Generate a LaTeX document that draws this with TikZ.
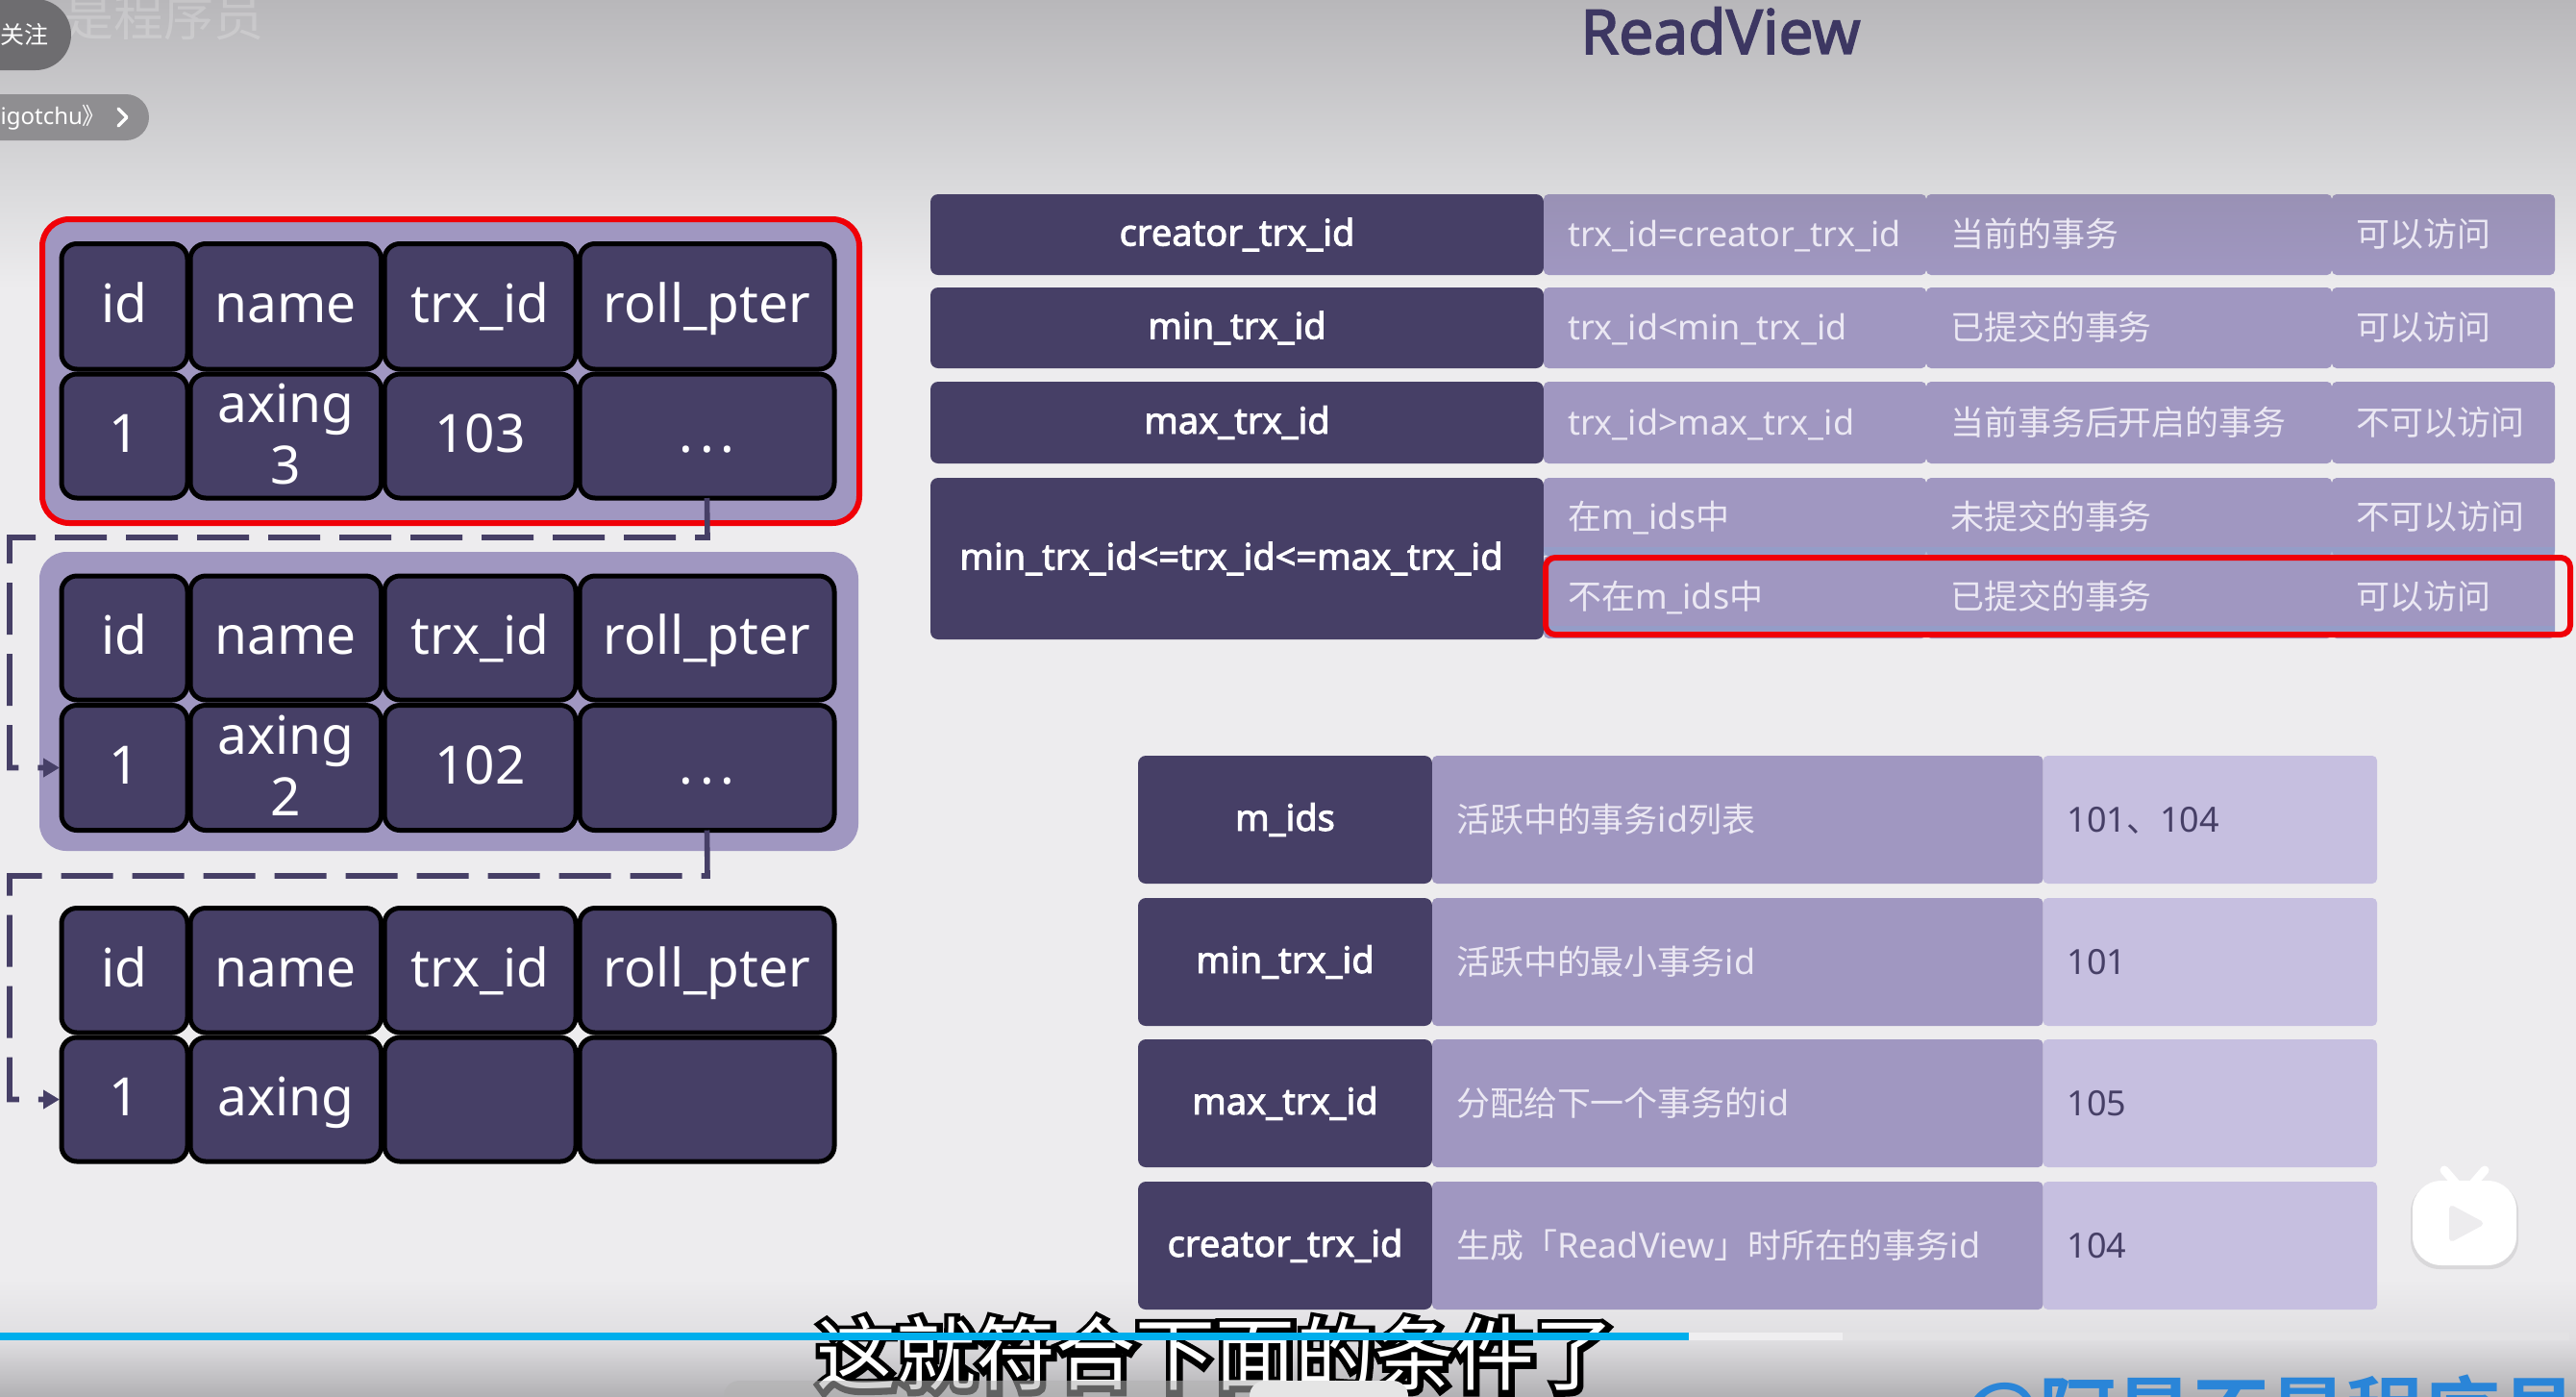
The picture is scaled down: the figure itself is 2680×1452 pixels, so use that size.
\documentclass[tikz,border=0pt]{standalone}
\usepackage{fontspec}
\setmainfont{Noto Sans}
\newfontfamily\hb[FakeBold=2.4]{Noto Sans}
\newfontfamily\cj{Noto Sans CJK SC}
\newfontfamily\cjt[Scale=0.972]{Noto Sans CJK SC}
\newfontfamily\cjb{Noto Sans CJK SC Bold}
\newfontfamily\subb[FakeBold=13]{Noto Sans CJK SC}
\usetikzlibrary{arrows.meta}
\definecolor{darkc}{HTML}{463F66}
\definecolor{titlec}{HTML}{3D3762}
\definecolor{midc}{HTML}{A097C1}
\definecolor{midtop}{HTML}{9991B5}
\definecolor{lightc}{HTML}{C6BFE0}
\definecolor{pale}{HTML}{EBE8F3}
\definecolor{bgc}{HTML}{EDECEE}
\definecolor{redc}{HTML}{F00008}
\definecolor{blueb}{HTML}{00AEEC}
\definecolor{wmblue}{HTML}{2A85D8}
\definecolor{g1}{HTML}{B8B7BA}
\definecolor{g2}{HTML}{DADADC}
\definecolor{g3}{HTML}{DFDEE1}
\definecolor{g4}{HTML}{B2B1B4}
\definecolor{p1}{HTML}{6E6D70}
\definecolor{p2}{HTML}{8F8E91}
\definecolor{band}{HTML}{8FA0CC}
\tikzset{
  base/.style={inner sep=0pt,outer sep=0pt,align=center},
  blk/.style={base,fill=darkc,draw=black,line width=2.5pt,rounded corners=8pt,text=white,font=\fontsize{27.5}{32}\selectfont},
  one/.style={text height=22pt,text depth=5pt},
  cont/.style={base,fill=midc,rounded corners=14pt},
  kcell/.style={base,fill=darkc,rounded corners=4pt,text=white,font=\hb\fontsize{19}{21}\selectfont,text height=14.5pt,text depth=3pt},
  mcell/.style={base,fill=midc,rounded corners=2.5pt,text=pale,font=\fontsize{18}{21}\selectfont,text height=15pt,text depth=2.5pt},
  mtop/.style={mcell,fill=none,top color=midtop,bottom color=midc},
  lcell/.style={mcell,fill=lightc,text=darkc},
  dashlink/.style={draw=darkc,line width=2.8pt,dash pattern=on 27pt off 10pt,-{Triangle[length=8.5pt,width=9.5pt]}},
  redbox/.style={draw=redc,line width=3pt},
}
\newcommand{\cell}[7]{\node[#6,minimum width={(#4-#2)*0.5pt},minimum height={(#5-#3)*0.5pt}] (#1) at ({(#2+#4)/2},{(#3+#5)/2}) {#7};}
\newcommand{\lft}[7]{\node[#6,minimum width={(#4-#2)*0.5pt},minimum height={(#5-#3)*0.5pt},text width={(#4-#2)*0.5pt-25pt},inner xsep=12.5pt,align=left] (#1) at ({(#2+#4)/2},{(#3+#5)/2}) {#7};}
\newcommand{\tbl}[5]{% prefix, y0,y1,y2,y3
  \cell{#1a}{64}{#2}{195}{#3}{blk,one}{id}
  \cell{#1b}{198}{#2}{396.5}{#3}{blk,one}{name}
  \cell{#1c}{400}{#2}{599}{#3}{blk,one}{trx\_id}
  \cell{#1d}{603}{#2}{868}{#3}{blk,one}{roll\_pter}
  \cell{#1e}{64}{#4}{195}{#5}{blk,one}{1}
}
\newcommand{\dotsx}{.\kern3.5pt.\kern3.5pt.}
\newcommand{\upx}{\rule[-2.2pt]{0pt}{2.2pt}}
\begin{document}
\begin{tikzpicture}[x=0.5pt,y=-0.5pt]
\useasboundingbox (0,0) rectangle (2680,1452);
\clip (0,0) rectangle (2680,1452);
% background
\fill[bgc] (0,0) rectangle (2680,1452);
\shade[top color=g1,bottom color=g2] (0,0) rectangle (2680,195);
\shade[top color=g2,bottom color=bgc] (0,195) rectangle (2680,300);
\shade[top color=bgc,bottom color=g3] (0,1330) rectangle (2680,1394);
\shade[top color=g3,bottom color=g4] (0,1394) rectangle (2680,1452);
% faint channel mark
\node[base,anchor=west,text=white,opacity=.2,font=\cj\fontsize{26}{26}\selectfont] (mark) at (66,18) {是程序员};
% player pills
\fill[p1,rounded corners=18.5pt] (-80,-1) rectangle (74,73);
\node[base,text=white,font=\cj\fontsize{12.5}{14}\selectfont] (follow) at (25,36) {关注};
\fill[p2,rounded corners=12pt] (-60,98) rectangle (155,146);
\node[base,anchor=east,text=white,font=\fontsize{12}{14}\selectfont] (coll) at (110,122) {{\cj 《}igotchu{\cj 》}};
\draw[white,line width=1.6pt,line cap=round,line join=round] (123,113) -- (132,122) -- (123,131);
% title
\node[base,text=titlec,font=\hb\fontsize{32}{34}\selectfont] (title) at (1790,32) {ReadView};
% left stack
\cell{boxA}{44}{228}{894}{544}{cont,redbox}{}
\cell{boxB}{41}{574}{893}{885}{cont}{}
\tbl{A}{253.5}{384}{389}{518}
\cell{Af}{198}{389}{396.5}{518}{blk}{axing\\3\upx}
\cell{Ag}{400}{389}{599}{518}{blk,one}{103}
\cell{Ah}{603}{389}{868}{518}{blk,one}{\dotsx}
\tbl{B}{599}{728}{733.5}{863.5}
\cell{Bf}{198}{733.5}{396.5}{863.5}{blk}{axing\\2\upx}
\cell{Bg}{400}{733.5}{599}{863.5}{blk,one}{102}
\cell{Bh}{603}{733.5}{868}{863.5}{blk,one}{\dotsx}
\tbl{C}{944.5}{1074}{1079}{1208}
\cell{Cf}{198}{1079}{396.5}{1208}{blk,one}{axing}
\cell{Cg}{400}{1079}{599}{1208}{blk,one}{}
\cell{Ch}{603}{1079}{868}{1208}{blk,one}{}
% version links
\coordinate (p1) at (736,559); \coordinate (p2) at (10,559);
\coordinate (p3) at (736,911); \coordinate (p4) at (10,911);
\draw[dashlink] (Ah.south) -- (p1) -- (p2) -- (p2 |- Be.west) -- ([xshift=-1pt]Be.west);
\draw[dashlink] (Bh.south) -- (p3) -- (p4) -- (p4 |- Ce.west) -- ([xshift=-1pt]Ce.west);
% rules table
\cell{r1k}{968}{202}{1606}{286}{kcell}{creator\_trx\_id}
\lft{r1a}{1606}{202}{2004}{286}{mtop}{trx\_id=creator\_trx\_id}
\lft{r1b}{2004}{202}{2426}{286}{mtop}{\cjt 当前的事务}
\lft{r1c}{2426}{202}{2658}{286}{mtop}{\cjt 可以访问}
\cell{r2k}{968}{299}{1606}{383}{kcell}{min\_trx\_id}
\lft{r2a}{1606}{299}{2004}{383}{mcell}{trx\_id<min\_trx\_id}
\lft{r2b}{2004}{299}{2426}{383}{mcell}{\cjt 已提交的事务}
\lft{r2c}{2426}{299}{2658}{383}{mcell}{\cjt 可以访问}
\cell{r3k}{968}{397}{1606}{482}{kcell}{max\_trx\_id}
\lft{r3a}{1606}{397}{2004}{482}{mcell}{trx\_id>max\_trx\_id}
\lft{r3b}{2004}{397}{2426}{482}{mcell}{\cjt 当前事务后开启的事务}
\lft{r3c}{2426}{397}{2658}{482}{mcell}{\cjt 不可以访问}
\cell{r4k}{968}{497}{1606}{665}{kcell}{min\_trx\_id<=trx\_id<=max\_trx\_id\hspace*{6pt}}
\lft{r4a}{1606}{497}{2004}{578}{mcell}{{\cjt 在}m\_ids{\cjt 中}}
\lft{r4b}{2004}{497}{2426}{578}{mcell}{\cjt 未提交的事务}
\lft{r4c}{2426}{497}{2658}{578}{mcell}{\cjt 不可以访问}
\lft{r5a}{1606}{578}{2004}{664}{mcell}{{\cjt 不在}m\_ids{\cjt 中}}
\lft{r5b}{2004}{578}{2426}{664}{mcell}{\cjt 已提交的事务}
\lft{r5c}{2426}{578}{2658}{664}{mcell}{\cjt 可以访问}
\fill[band,opacity=.7] (1606,569) rectangle (2658,578);
\fill[band,opacity=.7] (1608,651) rectangle (2658,656);
\draw[redbox,rounded corners=5pt] (1608,580) rectangle (2674,660);
% fields table
\cell{f1k}{1184}{786}{1490}{919}{kcell}{m\_ids}
\lft{f1a}{1490}{786}{2125.5}{919}{mcell}{{\cjt 活跃中的事务}id{\cjt 列表}}
\lft{f1b}{2125.5}{786}{2473}{919}{lcell}{101{\cjt 、}104}
\cell{f2k}{1184}{934}{1490}{1067}{kcell}{min\_trx\_id}
\lft{f2a}{1490}{934}{2125.5}{1067}{mcell}{{\cjt 活跃中的最小事务}id}
\lft{f2b}{2125.5}{934}{2473}{1067}{lcell}{101}
\cell{f3k}{1184}{1081}{1490}{1214}{kcell}{max\_trx\_id}
\lft{f3a}{1490}{1081}{2125.5}{1214}{mcell}{{\cjt 分配给下一个事务的}id}
\lft{f3b}{2125.5}{1081}{2473}{1214}{lcell}{105}
\cell{f4k}{1184}{1229}{1490}{1362}{kcell}{creator\_trx\_id}
\lft{f4a}{1490}{1229}{2125.5}{1362}{mcell}{{\cjt 生成「}ReadView{\cjt 」时所在的事务}id}
\lft{f4b}{2125.5}{1229}{2473}{1362}{lcell}{104}
% bilibili icon
\fill[gray,opacity=.18,rounded corners=15pt] (2508,1230) rectangle (2620,1320);
\draw[white,line width=4.5pt,line cap=round] (2556,1232) -- (2543,1217) (2572,1232) -- (2585,1217);
\fill[white,rounded corners=15pt] (2510,1228) rectangle (2618,1316);
\fill[bgc,draw=bgc,line width=3pt,line join=round] (2551,1257) -- (2580,1272.5) -- (2551,1288) -- cycle;
% subtitle
\node[base,text=black,font=\subb\fontsize{41.5}{44}\selectfont] (subo) at (1265,1409) {这就符合下面的条件了};
\node[base,text=white,font=\cj\fontsize{41.5}{44}\selectfont] (subt) at (1264,1408) {这就符合下面的条件了};
% player bars
\fill[bgc!90!white] (1757,1386) rectangle (1917,1394);
\fill[bgc!96!black] (1917,1386) rectangle (2673,1394);
\fill[blueb] (0,1386) rectangle (1757,1394);
\fill[gray!60,opacity=.55,rounded corners=8pt] (753,1436) rectangle (1340,1480);
\fill[gray!20,rounded corners=8pt] (1300,1436) rectangle (1465,1480);
\node[base,anchor=west,text=wmblue,font=\cjb\fontsize{40}{44}\selectfont] (wm) at (2041,1472) {@阿星不是程序员};
\end{tikzpicture}
\end{document}
